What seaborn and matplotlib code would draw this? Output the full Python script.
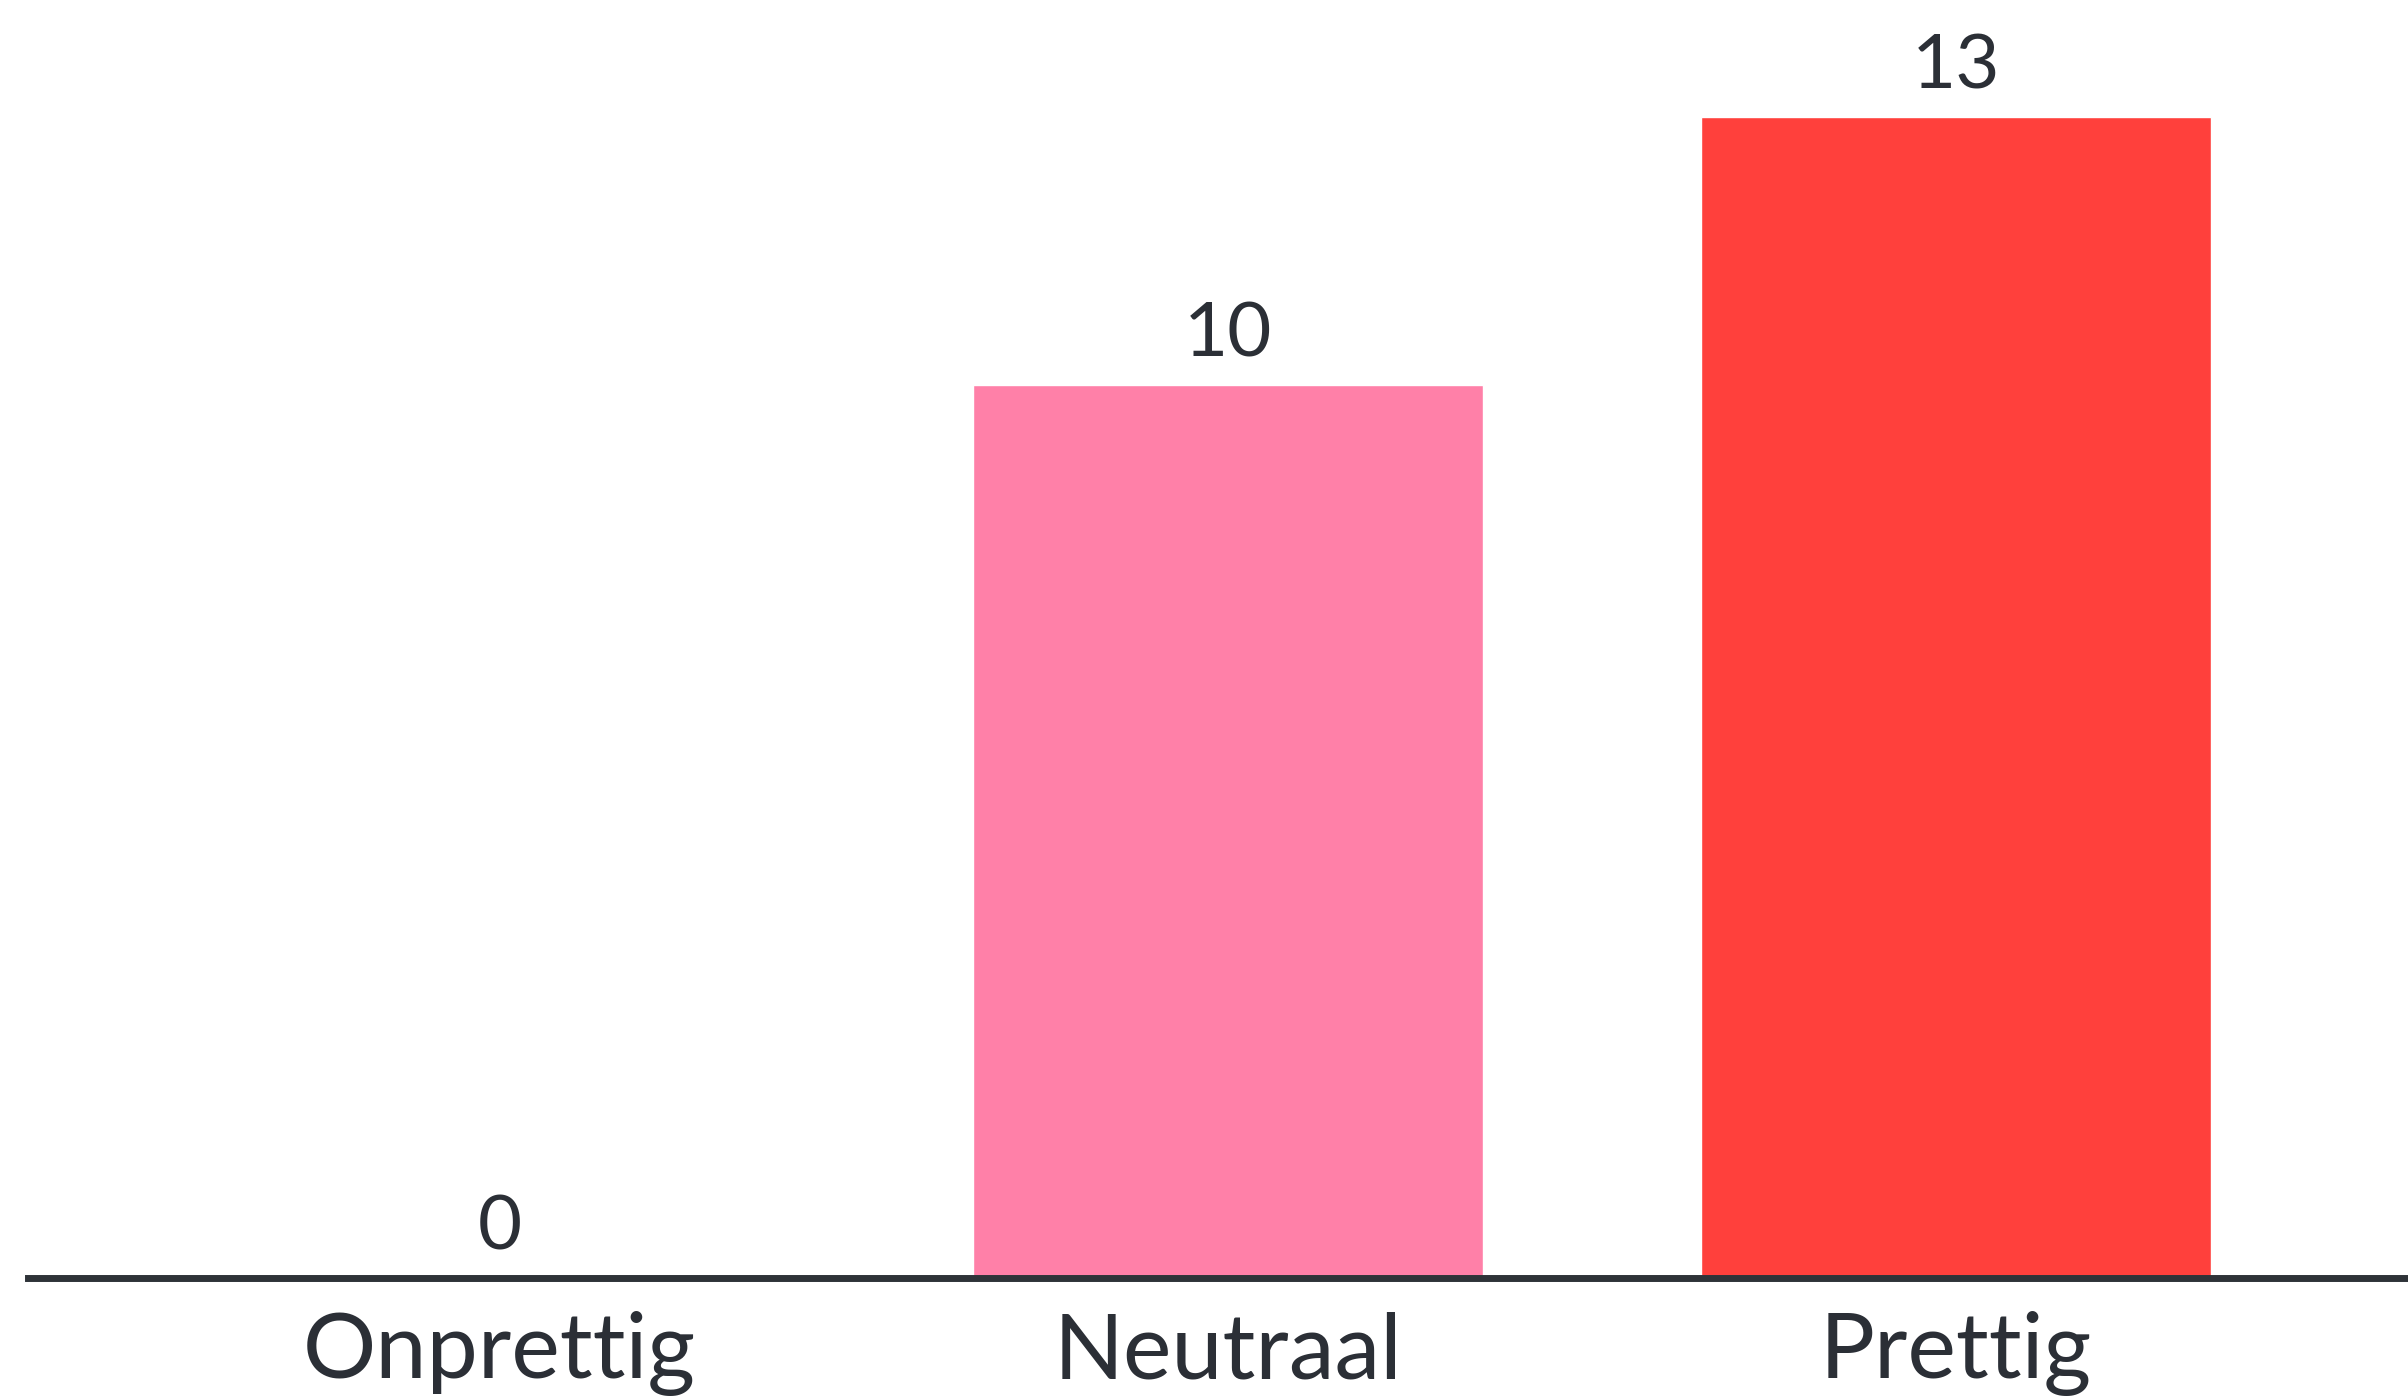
import matplotlib
matplotlib.use("Agg")
import matplotlib.pyplot as plt
import seaborn as sns
import pandas as pd

# chart data
categories = ["Onprettig", "Neutraal", "Prettig"]
counts = [0, 10, 13]
bar_colors = ["#FF80A8", "#FF80A8", "#FF403C"]

data = pd.DataFrame({"category": categories, "count": counts})

sns.set_theme(style="white")
plt.rcParams["font.family"] = ["Lato", "DejaVu Sans"]

text_color = "#2B2F36"

fig = plt.figure(figsize=(24.08, 13.98), dpi=100)
ax = fig.add_axes([28 / 2408, 120 / 1398, 1 - 28 / 2408, 1 - 120 / 1398])

sns.barplot(data=data, x="category", y="count", hue="category",
            palette=bar_colors, width=0.7, saturation=1, legend=False, ax=ax)

for c in ax.containers:
    ax.bar_label(c, padding=11, fontsize=55, color=text_color)

ax.set_xlim(-0.648, 2.621)
ax.set_ylim(0, 14.31)
ax.set_xlabel("")
ax.set_ylabel("")
ax.set_yticks([])

for side in ["top", "right", "left"]:
    ax.spines[side].set_visible(False)
ax.spines["bottom"].set_color("#2E3338")
ax.spines["bottom"].set_linewidth(5)

ax.tick_params(axis="x", length=0, pad=24, labelsize=66, labelcolor=text_color)

fig.savefig("out.png", dpi=100, facecolor="white")
